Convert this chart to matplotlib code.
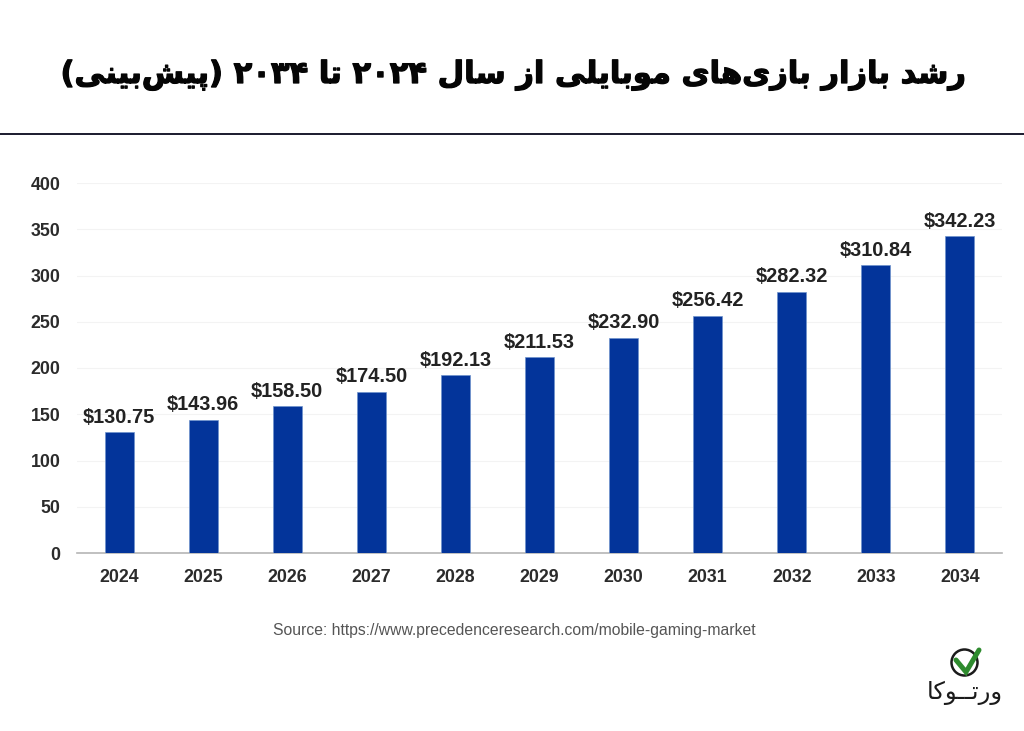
import matplotlib
matplotlib.use("Agg")
import matplotlib.pyplot as plt
import matplotlib.patheffects as pe
from matplotlib.patches import Circle
from matplotlib.lines import Line2D

years = ["2024", "2025", "2026", "2027", "2028", "2029", "2030", "2031", "2032", "2033", "2034"]
values = [130.75, 143.96, 158.50, 174.50, 192.13, 211.53, 232.90, 256.42, 282.32, 310.84, 342.23]
y_ticks = [0, 50, 100, 150, 200, 250, 300, 350, 400]
title_text = "رشد بازار بازی\u200cهای موبایلی از سال ۲۰۲۴ تا ۲۰۳۴ (پیش\u200cبینی)"
logo_text = "ورتــوکا"
source_text = "Source: https://www.precedenceresearch.com/mobile-gaming-market"

# isolated, final, initial, medial presentation forms
FORMS = {
    "ب": "\uFE8F\uFE90\uFE91\uFE92", "پ": "\uFB56\uFB57\uFB58\uFB59",
    "ت": "\uFE95\uFE96\uFE97\uFE98", "س": "\uFEB1\uFEB2\uFEB3\uFEB4",
    "ش": "\uFEB5\uFEB6\uFEB7\uFEB8", "ل": "\uFEDD\uFEDE\uFEDF\uFEE0",
    "م": "\uFEE1\uFEE2\uFEE3\uFEE4", "ن": "\uFEE5\uFEE6\uFEE7\uFEE8",
    "ه": "\uFEE9\uFEEA\uFEEB\uFEEC", "ی": "\uFBFC\uFBFD\uFBFE\uFBFF",
    "ک": "\uFB8E\uFB8F\uFB90\uFB91",
    "ا": "\uFE8D\uFE8E", "د": "\uFEA9\uFEAA", "ر": "\uFEAD\uFEAE",
    "ز": "\uFEAF\uFEB0", "و": "\uFEED\uFEEE",
}
MIRROR = {"(": ")", ")": "("}


def shape(s):
    out = []
    for i, c in enumerate(s):
        if c == "\u200c":
            continue
        if c == "ـ" or c not in FORMS:
            out.append(MIRROR.get(c, c))
            continue
        p = s[i - 1] if i else ""
        n = s[i + 1] if i + 1 < len(s) else ""
        pj = p == "ـ" or (p in FORMS and len(FORMS[p]) == 4)
        nj = n == "ـ" or n in FORMS
        f = FORMS[c]
        if len(f) == 2:
            out.append(f[1] if pj else f[0])
        else:
            out.append(f[3] if pj and nj else f[1] if pj else f[2] if nj else f[0])
    # visual order: reverse, but keep digit runs left to right
    res, run = [], []
    for c in reversed(out):
        if c in "۰۱۲۳۴۵۶۷۸۹":
            run.insert(0, c)
        else:
            res += run
            run = []
            res.append(c)
    return "".join(res + run)


plt.rcParams["font.family"] = ["Liberation Sans", "DejaVu Sans"]
W, H = 1024, 731
fig = plt.figure(figsize=(W / 100, H / 100), dpi=100, facecolor="white")


def fx(px):
    return px / W


def fy(py):
    return 1 - py / H


ax = fig.add_axes([fx(77), fy(553), fx(1002) - fx(77), fy(183) - fy(553)])
x = list(range(len(years)))
ax.bar(x, values, width=0.345, color="#03349A", edgecolor="#6E93CC", linewidth=0.5, zorder=3)
for xi, v in zip(x, values):
    ax.text(xi, v + 6, f"${v:.2f}", ha="center", va="bottom", fontsize=14.4,
            fontweight="bold", color="#222222")
ax.set_xlim(-0.5, 10.5)
ax.set_ylim(0, 400)
ax.set_xticks(x, years)
ax.set_yticks(y_ticks)
ax.tick_params(axis="both", length=0, labelsize=12.8, labelcolor="#2b2b2b")
ax.tick_params(axis="x", pad=11.5)
ax.tick_params(axis="y", pad=12)
for lab in ax.get_xticklabels() + ax.get_yticklabels():
    lab.set_fontweight("bold")
ax.grid(axis="y", color="#F3F3F3", linewidth=0.8, zorder=0)
ax.set_axisbelow(True)
for s in ["top", "right", "left"]:
    ax.spines[s].set_visible(False)
ax.spines["bottom"].set_color("#B5B5B5")
ax.spines["bottom"].set_linewidth(1.2)

fig.text(fx(512.5), fy(75), shape(title_text), ha="center", va="center", fontsize=22,
         fontweight="bold", color="#050505", family="DejaVu Sans",
         path_effects=[pe.withStroke(linewidth=0.9, foreground="#050505")])
fig.add_artist(Line2D([0, 1], [fy(134), fy(134)], color="#1A1A2E", linewidth=1.4))
fig.text(fx(514), fy(630), source_text, ha="center", va="center", fontsize=11.3, color="#555555")

# logo
logo = fig.add_axes([fx(945), fy(680), 40 / W, 32 / H])
logo.set_xlim(945, 985)
logo.set_ylim(680, 648)
logo.set_aspect("equal")
logo.axis("off")
logo.add_patch(Circle((964.5, 662.5), 13, fill=False, edgecolor="#1b1b1b", linewidth=1.8))
logo.plot([956, 966, 979], [660, 672, 650], color="#2E8B2E", linewidth=3.6,
          solid_capstyle="round", solid_joinstyle="miter", clip_on=False)
fig.text(fx(965), fy(693), shape(logo_text), ha="center", va="center", fontsize=17.5,
         color="#1b1b1b", family="DejaVu Sans")

fig.savefig("out.png", dpi=100, facecolor="white")
